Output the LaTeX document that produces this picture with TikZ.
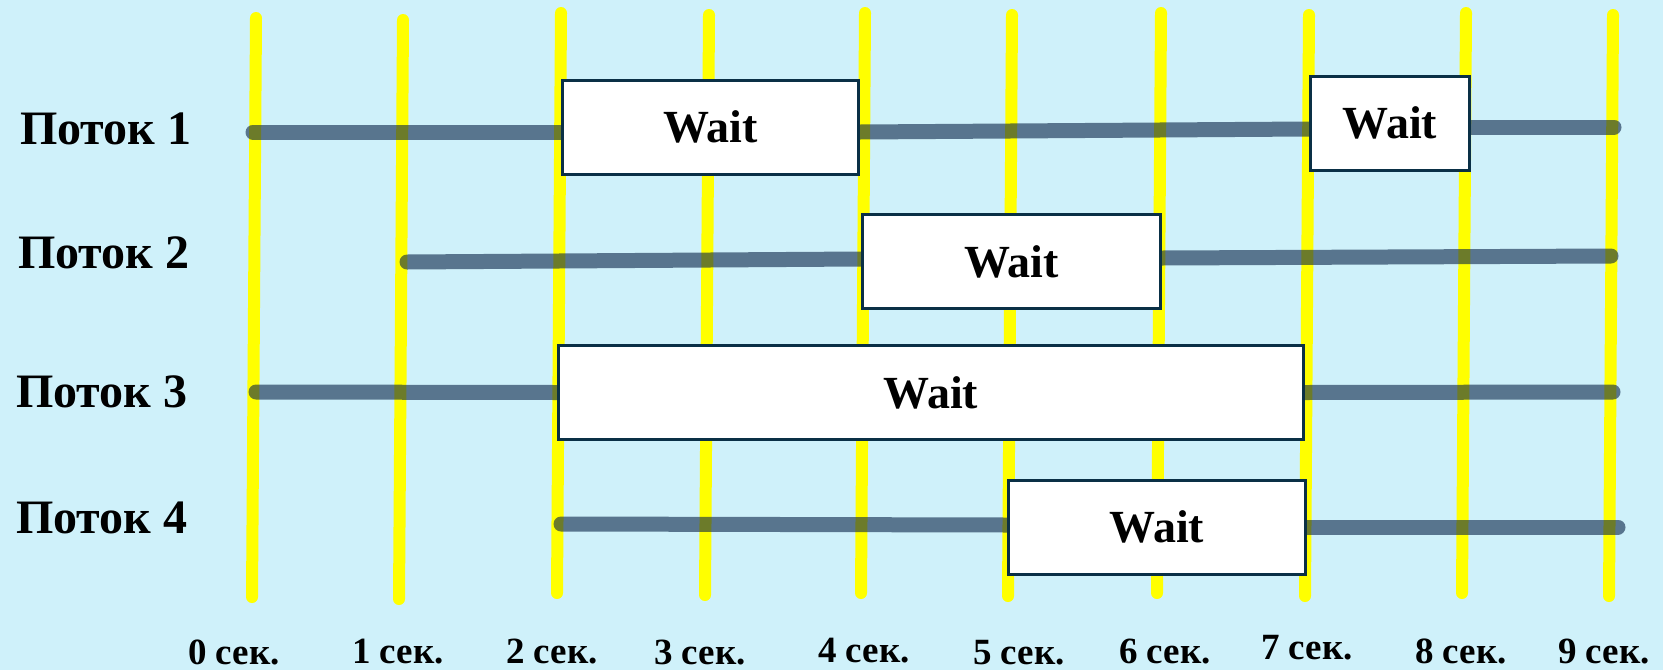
\documentclass[tikz,border=0pt]{standalone}
\usepackage{fontspec}
\setmainfont{Liberation Serif}
\definecolor{skybg}{RGB}{207,241,250}
\definecolor{tick}{RGB}{255,255,0}
\definecolor{threadc}{RGB}{10,35,70}
\definecolor{boxline}{RGB}{10,48,70}
\pgfdeclarelayer{gridlayer}
\pgfdeclarelayer{runlayer}
\pgfsetlayers{gridlayer,runlayer,main}
\tikzset{
  grid/.style={line width=12pt, tick, line cap=round},
  thread/.style={line width=15pt, threadc, draw opacity=0.6, line cap=round},
  waitbox/.style={draw=boxline, line width=3pt, fill=white, inner sep=0pt,
    minimum height=94pt, text height=31pt, text depth=0pt,
    font=\fontsize{46}{55}\selectfont\bfseries},
  rowlabel/.style={anchor=base west, inner sep=0pt, font=\fontsize{48}{58}\selectfont\bfseries},
  timelabel/.style={anchor=base, inner sep=0pt, font=\fontsize{37}{44}\selectfont\bfseries}
}
\begin{document}
\begin{tikzpicture}[x=1pt, y=-1pt]
  \begin{pgfonlayer}{gridlayer}
    % canvas
    \fill[skybg] (0,0) rectangle (1663,670);
    % time grid: one yellow rule per second
    \foreach \i/\xt/\yt/\xb/\yb in {0/256/18/252/597, 1/403/20/399/599, 2/561/13/557/593,
        3/709/15/705/595, 4/865/13/861/593, 5/1012/15/1008/596, 6/1161/13/1157/593,
        7/1309/15/1305/596, 8/1466/13/1462/593, 9/1613/15/1609/596} {
      \coordinate (gt\i) at (\xt,\yt);
      \coordinate (gb\i) at (\xb,\yb);
      \draw[grid] (gt\i) -- (gb\i);
    }
  \end{pgfonlayer}
  \useasboundingbox (0,0) rectangle (1663,670);

  % wait intervals
  \node[waitbox, minimum width=296pt] (b1) at (710.5,127) {Wait};
  \node[waitbox, minimum width=159pt] (b2) at (1390,123) {Wait};
  \node[waitbox, minimum width=298pt] (b3) at (1011.5,261.5) {Wait};
  \node[waitbox, minimum width=745pt] (b4) at (931,392.5) {Wait};
  \node[waitbox, minimum width=297pt] (b5) at (1157,527) {Wait};

  % free ends of the thread run lines
  \coordinate (r1a) at (253,132);  \coordinate (r1b) at (1614,127);
  \coordinate (r2a) at (407,262);  \coordinate (r2b) at (1611,256);
  \coordinate (r3a) at (256,392);  \coordinate (r3b) at (1613,392);
  \coordinate (r4a) at (561,524);  \coordinate (r4b) at (1618,527);

  \begin{pgfonlayer}{runlayer}
    \draw[thread] (r1a) -- ([yshift=-5pt]b1.west);
    \draw[thread] ([yshift=-5pt]b1.east) -- ([yshift=-6pt]b2.west);
    \draw[thread] ([yshift=-4pt]b2.east) -- (r1b);
    \draw[thread] (r2a) -- ([yshift=2.5pt]b3.west);
    \draw[thread] ([yshift=3.5pt]b3.east) -- (r2b);
    \draw[thread] (r3a) -- (b4.west);
    \draw[thread] (b4.east) -- (r3b);
    \draw[thread] (r4a) -- ([yshift=2pt]b5.west);
    \draw[thread] (b5.east) -- (r4b);
  \end{pgfonlayer}

  % thread names
  \node[rowlabel] (l1) at (20,144) {Поток 1};
  \node[rowlabel] (l2) at (18,268) {Поток 2};
  \node[rowlabel] (l3) at (16,407) {Поток 3};
  \node[rowlabel] (l4) at (16,533) {Поток 4};

  % second marks
  \node[timelabel] (s0) at (234,664) {0 сек.};
  \node[timelabel] (s1) at (398,663) {1 сек.};
  \node[timelabel] (s2) at (552,663) {2 сек.};
  \node[timelabel] (s3) at (700,664) {3 сек.};
  \node[timelabel] (s4) at (864,662) {4 сек.};
  \node[timelabel] (s5) at (1019,664) {5 сек.};
  \node[timelabel] (s6) at (1165,663) {6 сек.};
  \node[timelabel] (s7) at (1307,659) {7 сек.};
  \node[timelabel] (s8) at (1461,663) {8 сек.};
  \node[timelabel] (s9) at (1604,663) {9 сек.};
\end{tikzpicture}
\end{document}
